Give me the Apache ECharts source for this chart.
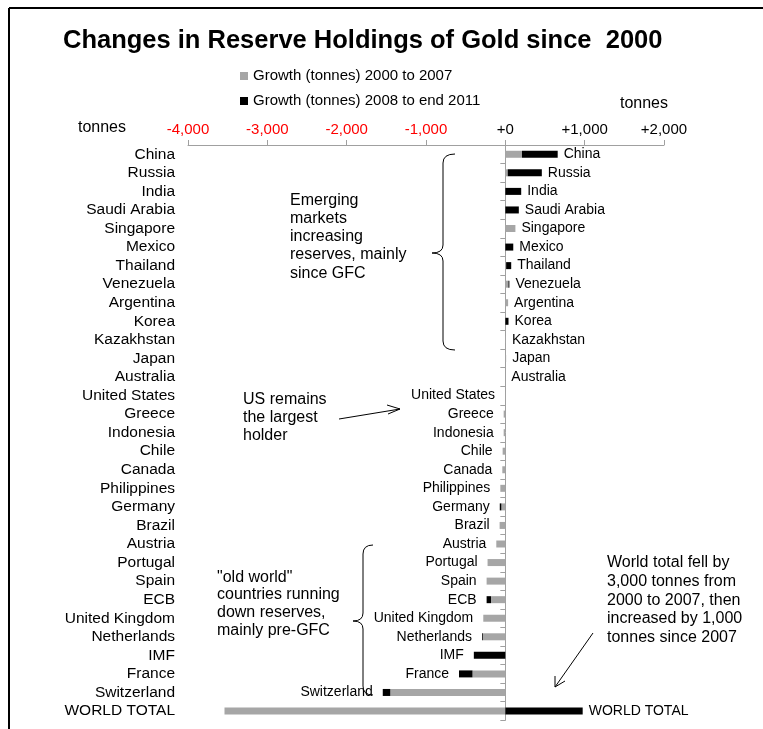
<!DOCTYPE html>
<html>
<head>
<meta charset="utf-8">
<script src="https://cdn.jsdelivr.net/npm/echarts@6/dist/echarts.min.js"></script>
<style>
  html, body { margin: 0; padding: 0; background: #fff; }
  #chart { width: 763px; height: 729px; }
</style>
</head>
<body>
<div id="chart"></div>
<script>
// Holders, ordered by total change in gold reserves since 2000
const categories = [
  'China', 'Russia', 'India', 'Saudi Arabia', 'Singapore', 'Mexico', 'Thailand',
  'Venezuela', 'Argentina', 'Korea', 'Kazakhstan', 'Japan', 'Australia',
  'United States', 'Greece', 'Indonesia', 'Chile', 'Canada', 'Philippines',
  'Germany', 'Brazil', 'Austria', 'Portugal', 'Spain', 'ECB', 'United Kingdom',
  'Netherlands', 'IMF', 'France', 'Switzerland', 'WORLD TOTAL'
];

// Change in holdings (tonnes), 2000 to 2007
const growth2000to2007 = [
  210, 30, 0, 0, 127, 0, 10,
  39, 35, 0, 8, 10, 0,
  -3, -21, -21, -34, -38, -63,
  -50, -72, -114, -224, -236, -181, -278,
  -283, 0, -414, -1450, -3540
];

// Change in holdings (tonnes), 2008 to end 2011
const growth2008to2011 = [
  450, 430, 200, 170, 0, 100, 64,
  12, 0, 40, 0, 0, 0,
  0, 0, 0, 0, 0, 0,
  -20, 0, 0, 0, 0, -55, 0,
  -10, -397, -170, -95, 975
];

const seriesNames = ['Growth (tonnes) 2000 to 2007', 'Growth (tonnes) 2008 to end 2011'];
const axisUnit = 'tonnes';

const FONT = "'Liberation Sans', Arial, Helvetica, sans-serif";
const GREY = '#a6a6a6';
const AXIS_GREY = '#a0a0a0';

// Row labels go beside the bar: right of gains, left of losses
const onRight = categories.map((c, i) =>
  growth2000to2007[i] > 0 || growth2008to2011[i] > 0 ||
  (growth2000to2007[i] === 0 && growth2008to2011[i] === 0));

function fmtTick(v) {
  const s = Math.abs(v).toLocaleString('en-US');
  return v < 0 ? '-' + s : '+' + s;
}

// Annotation helpers
function line(x1, y1, x2, y2, w) {
  return { type: 'line', shape: { x1, y1, x2, y2 }, style: { stroke: '#000', lineWidth: w || 1 }, silent: true };
}
function curve(x1, y1, cx, cy, x2, y2) {
  return { type: 'bezierCurve', shape: { x1, y1, x2, y2, cpx1: cx, cpy1: cy }, style: { stroke: '#000', lineWidth: 1, fill: null }, silent: true };
}
function note(x, y, lines, lineHeight) {
  return {
    type: 'text', x, y, silent: true,
    style: { text: lines.join('\n'), font: '16px ' + FONT, fill: '#000', textAlign: 'left', textVerticalAlign: 'top', lineHeight }
  };
}
// Left-facing curly brace: top end, vertical spine, point, bottom end
function brace(xEnd, xSpine, xPoint, yTop, yPoint, yBottom) {
  return [
    curve(xEnd, yTop, xSpine, yTop, xSpine, yTop + 9),
    line(xSpine, yTop + 9, xSpine, yPoint - 8),
    curve(xSpine, yPoint - 8, xSpine, yPoint, xPoint, yPoint),
    curve(xPoint, yPoint, xSpine, yPoint, xSpine, yPoint + 8),
    line(xSpine, yPoint + 8, xSpine, yBottom - 9),
    curve(xSpine, yBottom - 9, xSpine, yBottom, xEnd, yBottom)
  ];
}

const chart = echarts.init(document.getElementById('chart'), null, { renderer: 'canvas' });

const graphics = [
  // frame
  line(9, 8, 763, 8, 2), line(9, 8, 9, 729, 2),
  // unit captions
  { type: 'text', x: 102, y: 128, silent: true, style: { text: axisUnit, font: '16px ' + FONT, fill: '#000', textAlign: 'center', textVerticalAlign: 'middle' } },
  { type: 'text', x: 644, y: 104, silent: true, style: { text: axisUnit, font: '16px ' + FONT, fill: '#000', textAlign: 'center', textVerticalAlign: 'middle' } },
  // commentary
  note(290, 191, ['Emerging', 'markets', 'increasing', 'reserves, mainly', 'since GFC'], 18.3),
  note(243, 390, ['US remains', 'the largest', 'holder'], 18.3),
  note(217, 568.5, ['"old world"', 'countries running', 'down reserves,', 'mainly pre-GFC'], 17.6),
  note(607, 553.6, ['World total fell by', '3,000 tonnes from', '2000 to 2007, then', 'increased by 1,000', 'tonnes since 2007'], 18.7),
  // arrows
  line(339, 419, 400, 409), line(400, 409, 387, 405), line(400, 409, 388, 414),
  line(593, 633, 555, 687), line(555, 687, 555, 676), line(555, 687, 565, 681)
].concat(
  brace(455, 443, 432, 154, 253, 350),
  brace(373, 363, 353, 545, 621, 695)
);

chart.setOption({
  animation: false,
  backgroundColor: '#fff',
  textStyle: { fontFamily: FONT },
  title: {
    text: 'Changes in Reserve Holdings of Gold since  2000',
    left: 58, top: 23,
    textStyle: { fontSize: 25.5, fontWeight: 'bold', color: '#000', fontFamily: FONT }
  },
  legend: {
    data: seriesNames,
    orient: 'vertical',
    left: 235, top: 63,
    icon: 'rect',
    itemWidth: 8, itemHeight: 8,
    itemGap: 9,
    textStyle: { fontSize: 15, color: '#000', fontFamily: FONT, lineHeight: 16 }
  },
  grid: { left: 188, right: 99, top: 145, height: 575.3 },
  xAxis: {
    type: 'value',
    position: 'top',
    min: -4000, max: 2000, interval: 1000,
    splitLine: { show: false },
    axisLine: { show: true, lineStyle: { color: AXIS_GREY, width: 1 } },
    axisTick: { show: true, length: 5, lineStyle: { color: AXIS_GREY } },
    axisLabel: {
      margin: 8,
      fontSize: 15,
      fontFamily: FONT,
      formatter: fmtTick,
      color: (v) => (Number(v) < 0 ? '#ff0000' : '#000')
    }
  },
  yAxis: [
    {
      // spine at zero with band ticks
      type: 'category',
      data: categories,
      inverse: true,
      position: 'left',
      axisLine: { show: true, onZero: true, lineStyle: { color: AXIS_GREY, width: 1 } },
      axisTick: { show: true, length: 5, interval: 0, lineStyle: { color: AXIS_GREY } },
      axisLabel: { show: false },
      splitLine: { show: false }
    },
    {
      // category names down the left side
      type: 'category',
      data: categories,
      inverse: true,
      position: 'left',
      axisLine: { show: false, onZero: false },
      axisTick: { show: false },
      axisLabel: { interval: 0, margin: 13, fontSize: 15.5, color: '#000', fontFamily: FONT },
      splitLine: { show: false }
    }
  ],
  series: [
    {
      name: seriesNames[0],
      type: 'bar',
      stack: 'growth',
      yAxisIndex: 0,
      barWidth: 7,
      itemStyle: { color: GREY },
      data: growth2000to2007
    },
    {
      name: seriesNames[1],
      type: 'bar',
      stack: 'growth',
      yAxisIndex: 0,
      barWidth: 7,
      itemStyle: { color: '#000' },
      label: {
        show: true,
        formatter: '{b}',
        fontSize: 14,
        color: '#000',
        fontFamily: FONT
      },
      data: growth2008to2011.map((v, i) => ({
        value: v,
        label: { position: onRight[i] ? 'right' : 'left', distance: onRight[i] ? 6 : 10 }
      }))
    }
  ],
  graphic: graphics
});
</script>
</body>
</html>
